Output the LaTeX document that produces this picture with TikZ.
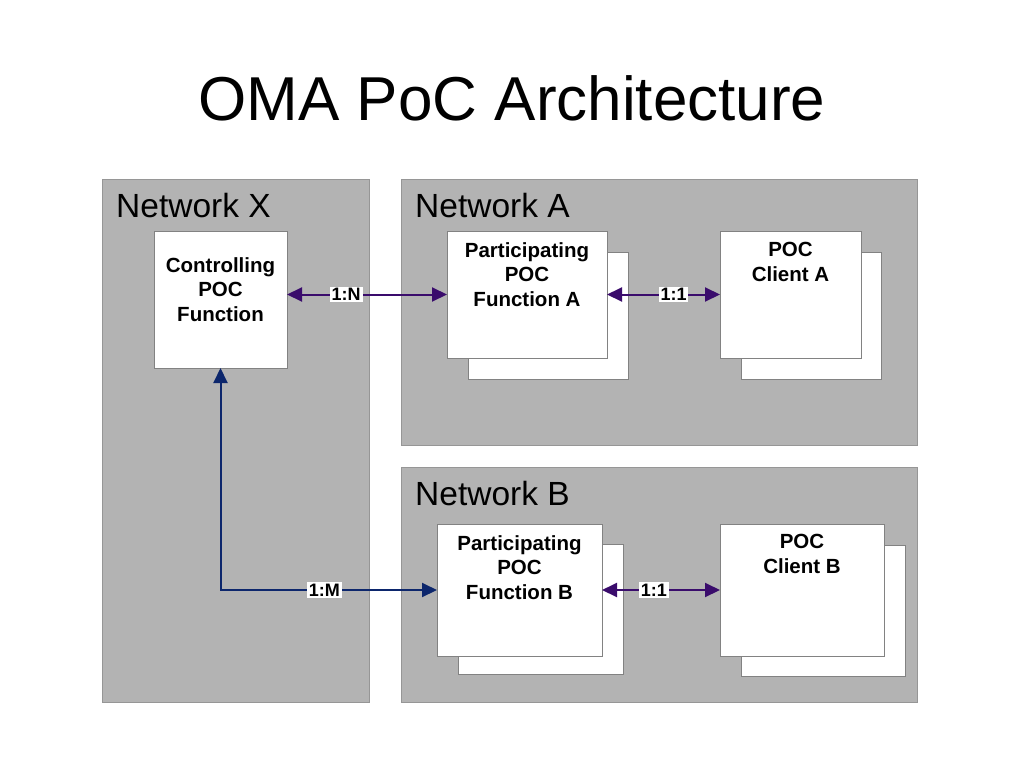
\documentclass[tikz,border=0pt]{standalone}
\usepackage{fontspec}
\setmainfont{Liberation Sans}
\usetikzlibrary{arrows.meta}
\definecolor{netgray}{RGB}{179,179,179}
\definecolor{netedge}{RGB}{150,150,150}
\definecolor{boxedge}{RGB}{130,130,130}
\definecolor{purp}{RGB}{58,12,108}
\definecolor{navy}{RGB}{12,38,108}
\tikzset{
  net/.style={fill=netgray, draw=netedge, line width=0.8pt},
  box/.style={fill=white, draw=boxedge, line width=0.8pt, inner sep=0pt, outer sep=0pt},
  boxtext/.style={anchor=north, inner sep=0pt, align=center, font=\fontsize{20.5}{24.5}\selectfont\bfseries},
  nettitle/.style={anchor=base west, inner sep=0pt, font=\fontsize{33.5}{40}\selectfont},
  conn/.style={line width=2pt, {Triangle[length=15pt,width=14pt]}-{Triangle[length=15pt,width=14pt]}},
  lab/.style={fill=white, inner sep=1.8pt, font=\fontsize{18}{20}\selectfont\bfseries, text=black}
}
\begin{document}
\begin{tikzpicture}[x=1pt,y=-1pt]
\useasboundingbox[fill=white] (0,0) rectangle (1024,768);
\node[anchor=base, inner sep=0pt, font=\fontsize{62}{70}\selectfont] (title) at (512,120) {OMA PoC Architecture};
% networks
\draw[net] (102,179) rectangle (369,702);
\draw[net] (401,179) rectangle (917,445);
\draw[net] (401,467) rectangle (917,702);
\node[nettitle] (nx) at (116,217) {Network X};
\node[nettitle] (na) at (415,217) {Network A};
\node[nettitle] (nb) at (415,505) {Network B};
% back boxes
\node[box, minimum width=160pt, minimum height=127pt] (pab) at (548,315.5) {};
\node[box, minimum width=140pt, minimum height=127pt] (cab) at (811,315.5) {};
\node[box, minimum width=165pt, minimum height=130pt] (pbb) at (540.5,609) {};
\node[box, minimum width=164pt, minimum height=131pt] (cbb) at (823,610.5) {};
% front boxes
\node[box, minimum width=133pt, minimum height=137pt] (ctl) at (220.5,299.5) {};
\node[box, minimum width=160pt, minimum height=127pt] (pa) at (527,294.5) {};
\node[box, minimum width=141pt, minimum height=127pt] (ca) at (790.5,294.5) {};
\node[box, minimum width=165pt, minimum height=132pt] (pb) at (519.5,590) {};
\node[box, minimum width=164pt, minimum height=132pt] (cb) at (802,590) {};
% texts
\node[boxtext] (ctlt) at (220.5,257) {Controlling\\POC\\Function};
\node[boxtext] (pat) at (527,242) {Participating\\POC\\Function A};
\node[boxtext] (cat) at (790.5,242) {POC\\Client A};
\node[boxtext] (pbt) at (519.5,535) {Participating\\POC\\Function B};
\node[boxtext] (cbt) at (802,534) {POC\\Client B};
% connectors
\draw[conn, purp] (ctl.east |- pa.west) -- node[lab, pos=0.37] (l1n) {1:N} (pa.west);
\draw[conn, purp] (pa.east) -- node[lab, pos=0.59] (l11a) {1:1} (ca.west);
\draw[conn, purp] (pb.east) -- node[lab, pos=0.44] (l11b) {1:1} (cb.west);
\draw[conn, navy] (pb.west) -- node[lab, pos=0.52] (l1m) {1:M} (ctl.south |- pb.west) -- (ctl.south);
\end{tikzpicture}
\end{document}
